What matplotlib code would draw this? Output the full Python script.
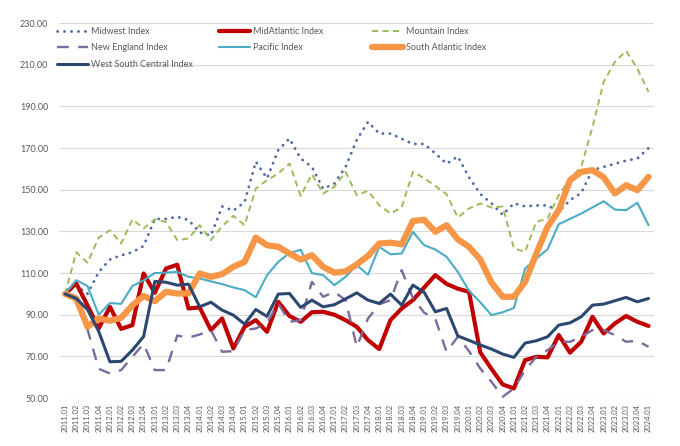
import matplotlib
matplotlib.use("Agg")
import matplotlib.pyplot as plt

# quarters 2011.01 .. 2024.01
quarters = [f"{y}.0{q}" for y in range(2011, 2025) for q in range(1, 5)][:53]

midwest = [100, 104, 100, 110.5, 116.5, 118.5, 120, 123, 136, 136, 137, 135.5, 129.5, 128,
           142, 140, 144, 163.5, 155.5, 169, 174.6, 165, 161, 150.5, 153, 161, 174, 182.6,
           177, 177, 174.5, 172, 172, 167.5, 162.5, 166, 156, 148, 143.5, 138, 143.5, 142,
           142.5, 142.5, 139.5, 145, 148.5, 159.5, 161, 162.5, 164, 165, 170]
mid_atlantic = [100, 105, 94.5, 83.4, 93.8, 83.2, 85, 109.8, 100.5, 112.2, 114, 93, 93.5, 82.6,
                88.2, 73.8, 84.2, 87.4, 81.8, 96.2, 89.4, 86.6, 91.2, 91.4, 90, 87.4, 84.2, 77.8,
                73.5, 87.4, 93, 97, 103, 109, 104.8, 102.5, 101, 72, 64, 56.5, 54.6, 68.2,
                69.8, 69.5, 80.2, 71.8, 77, 89, 81, 85.8, 89.4, 86.6, 84.6]
mountain = [100, 120, 115, 127, 130.6, 124.2, 135.8, 131.4, 135.8, 134.6, 125.8, 126.6, 133, 125.8,
            132.5, 137.5, 133, 150.6, 154.6, 157.8, 162.6, 147, 157.5, 148.2, 151.4, 158.6, 147.4,
            149.5, 142.6, 138.6, 141.5, 158.6, 155.6, 151.8, 147.9, 136.7, 141, 143.4, 141.5, 142,
            121.8, 120.2, 134.6, 136.2, 147.4, 155.4, 161, 180, 201.8, 211.4, 216.7, 208.2, 197]
new_england = [100, 96.5, 83, 64, 61.8, 63.4, 69.8, 76, 63.4, 63.4, 80, 79, 80.5, 82.6,
               72.2, 72.5, 82.6, 83.4, 86.2, 95.4, 86.6, 87.4, 105.8, 98.6, 101, 97, 74.6, 88.2,
               95, 97, 111.4, 98, 91, 88, 72.2, 79.4, 72.5, 64.2, 57.8, 50.6, 54.6, 63.4,
               69.8, 73, 77, 77, 79.4, 82.6, 82.6, 80.2, 77, 77.5, 74.6]
pacific = [100, 106.6, 103.8, 90, 95.6, 95.2, 103.8, 106.5, 110, 110.2, 110.6, 108.2, 107.4, 106,
           104.7, 103.1, 101.8, 98.4, 109, 115.4, 119.6, 121.2, 110, 109, 104.2, 108.2, 113.8,
           109.2, 122.6, 119, 119.4, 129.8, 123.4, 121.3, 117.8, 110.6, 101.5, 96, 89.8, 91.2,
           93.2, 112.2, 117, 121.4, 133.5, 136, 138.6, 141.5, 144.5, 140.5, 140.2, 143.8, 133]
south_atlantic = [100, 97.8, 84.2, 88.2, 87.1, 88.5, 94.5, 99, 96.5, 101, 100.2, 100.2, 109.8, 108.2,
                  109.5, 113, 115.4, 127, 123.4, 122.6, 119.4, 116.5, 118.6, 113, 110.2, 110.8, 114.2,
                  118.2, 124.2, 124.6, 123.8, 135, 135.6, 129.8, 133, 126.2, 122.6, 116.5, 105.5,
                  98.6, 98.6, 105.8, 119.4, 132.2, 140.2, 154.6, 158.6, 159.4, 156, 148.2, 152.2,
                  149.8, 156.2]
west_south_central = [100, 97.8, 92.5, 82, 67.4, 67.6, 73, 79.5, 106, 105.6, 104.2, 104.7, 93.8, 96,
                      92.2, 89.8, 85.5, 92.5, 89.2, 99.9, 100.2, 93.5, 97, 93.8, 94.8, 97.6, 100.5,
                      97, 95.4, 99.9, 94.6, 104.2, 100.8, 91.4, 93, 79.8, 77.7, 75.5, 73.5, 71.1,
                      69.5, 76.4, 77.5, 79.4, 85, 86.1, 89, 94.6, 95.1, 96.7, 98.3, 96.2, 97.8]

plt.rcParams["font.family"] = ["Lato", "DejaVu Sans"]
txt = "#595959"

fig = plt.figure(figsize=(6.8, 4.46), dpi=100)
ax = fig.add_axes([0.0874, 0.1076, 0.8746, 0.8404])
x = range(len(quarters))

series = [
    ("Midwest Index", midwest, dict(color="#4f6ca3", lw=2.0, ls=(0, (0.1, 2.4)), dash_capstyle="round")),
    ("MidAtlantic Index", mid_atlantic, dict(color="#c00000", lw=3.0)),
    ("Mountain Index", mountain, dict(color="#9bbb59", lw=1.4, ls=(0, (3.2, 2.2)))),
    ("New England Index", new_england, dict(color="#7a6b9c", lw=1.7, ls=(0, (5, 4)))),
    ("Pacific Index", pacific, dict(color="#4bacc6", lw=1.5)),
    ("South Atlantic Index", south_atlantic, dict(color="#f79646", lw=4.5)),
    ("West South Central Index", west_south_central, dict(color="#2c4770", lw=2.2)),
]
handles = {}
for name, vals, style in series:
    line, = ax.plot(x, vals, label=name, solid_capstyle="round", solid_joinstyle="round", **style)
    handles[name] = line

ax.set_xlim(-0.5, len(quarters) - 0.5)
ax.set_ylim(50, 230)
ax.set_yticks(range(50, 231, 20))
ax.set_yticklabels([f"{v:.2f}" for v in range(50, 231, 20)])
ax.set_xticks(list(x))
ax.set_xticklabels(quarters, rotation=90)
ax.tick_params(axis="y", length=0, pad=8, labelsize=6.5, labelcolor=txt)
ax.tick_params(axis="x", length=0, pad=4, labelsize=5.5, labelcolor=txt)
ax.grid(axis="y", color="#d9d9d9", lw=0.8)
ax.set_axisbelow(True)
for s in ax.spines.values():
    s.set_visible(False)

# legend: three columns, Excel-like even spacing
columns = [
    (0.084, ["Midwest Index", "New England Index", "West South Central Index"]),
    (0.322, ["MidAtlantic Index", "Pacific Index"]),
    (0.547, ["Mountain Index", "South Atlantic Index"]),
]
for xpos, names in columns:
    leg = fig.legend([handles[n] for n in names], names, loc="upper left",
                     bbox_to_anchor=(xpos, 0.94), frameon=False, fontsize=6.5,
                     labelspacing=0.85, handlelength=3.4, handletextpad=0.35,
                     borderpad=0, borderaxespad=0, labelcolor=txt)

fig.savefig("out.png", dpi=100, facecolor="white")
